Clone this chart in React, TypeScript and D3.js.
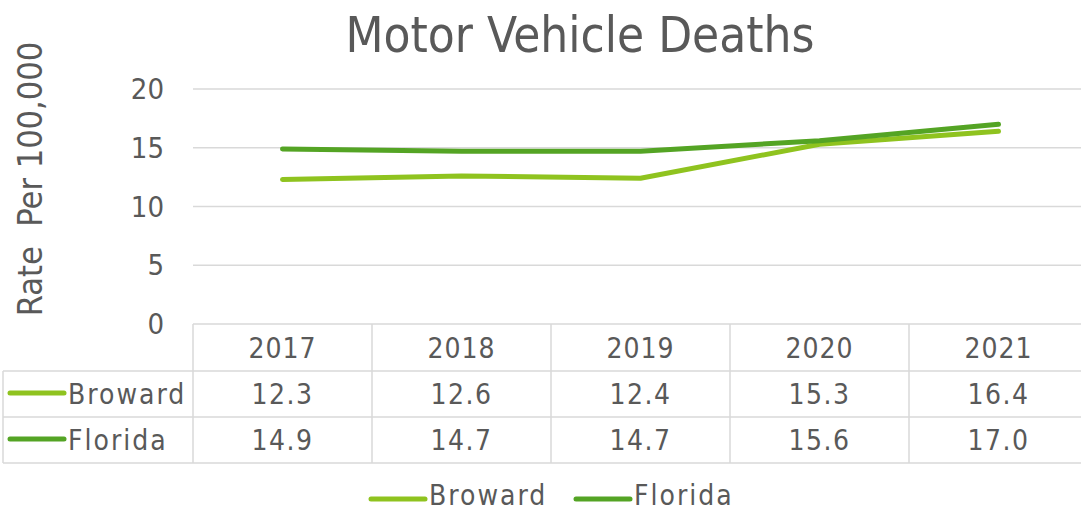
import React from "react";
import * as d3 from "d3";

const years = ["2017", "2018", "2019", "2020", "2021"];
const broward = [12.3, 12.6, 12.4, 15.3, 16.4];
const florida = [14.9, 14.7, 14.7, 15.6, 17.0];
const yTicks = [0, 5, 10, 15, 20];
const seriesNames = ["Broward", "Florida"];
const seriesColors = ["#8FC31F", "#54A424"];

const W = 1081;
const H = 512;
const FONT = "'DejaVu Sans Condensed', 'DejaVu Sans', Verdana, sans-serif";
const TEXT = "#595959";
const GRID = "#D9D9D9";

export default function App() {
  const plotL = 193;
  const colW = 179;
  const plotR = plotL + colW * years.length;
  const x = d3.scaleBand<string>().domain(years).range([plotL, plotR]);
  const y = d3.scaleLinear().domain([0, 20]).range([324, 89]);
  const cx = (yr: string) => (x(yr) as number) + x.bandwidth() / 2;
  const line = d3
    .line<number>()
    .x((_, i) => cx(years[i]))
    .y((d) => y(d));
  const series = [broward, florida];
  const rowTops = [324, 371, 417, 463];
  const tableLeft = 3;

  return (
    <svg
      width={W}
      height={H}
      style={{ position: "absolute", left: 0, top: 0, background: "#fff" }}
      fontFamily={FONT}
    >
      <text x={580} y={52} textAnchor="middle" fontSize={49} fill={TEXT}>
        Motor Vehicle Deaths
      </text>
      <text
        transform={`translate(42,179) rotate(-90)`}
        textAnchor="middle"
        fontSize={34}
        fill={TEXT}
        style={{ whiteSpace: "pre" }}
      >
        Rate  Per 100,000
      </text>
      {yTicks.map((t) => (
        <g key={t}>
          {t > 0 && (
            <line x1={plotL} x2={W} y1={y(t)} y2={y(t)} stroke={GRID} strokeWidth={1.5} />
          )}
          <text x={164} y={y(t) + 10} textAnchor="end" fontSize={29} fill={TEXT}>
            {t}
          </text>
        </g>
      ))}
      {/* table */}
      <line x1={plotL} x2={plotR} y1={rowTops[0]} y2={rowTops[0]} stroke={GRID} strokeWidth={1.5} />
      {rowTops.slice(1).map((ry) => (
        <line key={ry} x1={tableLeft} x2={plotR} y1={ry} y2={ry} stroke={GRID} strokeWidth={1.5} />
      ))}
      <line x1={tableLeft} x2={tableLeft} y1={rowTops[1]} y2={rowTops[3]} stroke={GRID} strokeWidth={1.5} />
      {years.map((yr) => (
        <line
          key={yr}
          x1={x(yr) as number}
          x2={x(yr) as number}
          y1={rowTops[0]}
          y2={rowTops[3]}
          stroke={GRID}
          strokeWidth={1.5}
        />
      ))}
      {years.map((yr) => (
        <text key={yr} x={cx(yr)} y={358} textAnchor="middle" fontSize={28} fill={TEXT} letterSpacing={1}>
          {yr}
        </text>
      ))}
      {series.map((s, si) => (
        <g key={si}>
          <line
            x1={10}
            x2={64}
            y1={rowTops[si + 1] + 22}
            y2={rowTops[si + 1] + 22}
            stroke={seriesColors[si]}
            strokeWidth={5}
            strokeLinecap="round"
          />
          <text x={68} y={rowTops[si + 1] + 33} fontSize={28} fill={TEXT} letterSpacing={2}>
            {seriesNames[si]}
          </text>
          {s.map((v, i) => (
            <text
              key={i}
              x={cx(years[i])}
              y={rowTops[si + 1] + 33}
              textAnchor="middle"
              fontSize={28}
              fill={TEXT}
              letterSpacing={1.5}
            >
              {v.toFixed(1)}
            </text>
          ))}
        </g>
      ))}
      {/* lines */}
      {series.map((s, si) => (
        <path
          key={si}
          d={line(s) as string}
          fill="none"
          stroke={seriesColors[si]}
          strokeWidth={5}
          strokeLinecap="round"
          strokeLinejoin="round"
        />
      ))}
      {/* legend */}
      {series.map((_, si) => {
        const lx = si === 0 ? 371 : 576;
        return (
          <g key={si}>
            <line
              x1={lx}
              x2={lx + 54}
              y1={499}
              y2={499}
              stroke={seriesColors[si]}
              strokeWidth={5}
              strokeLinecap="round"
            />
            <text x={lx + 58} y={505} fontSize={28} fill={TEXT} letterSpacing={2}>
              {seriesNames[si]}
            </text>
          </g>
        );
      })}
    </svg>
  );
}
